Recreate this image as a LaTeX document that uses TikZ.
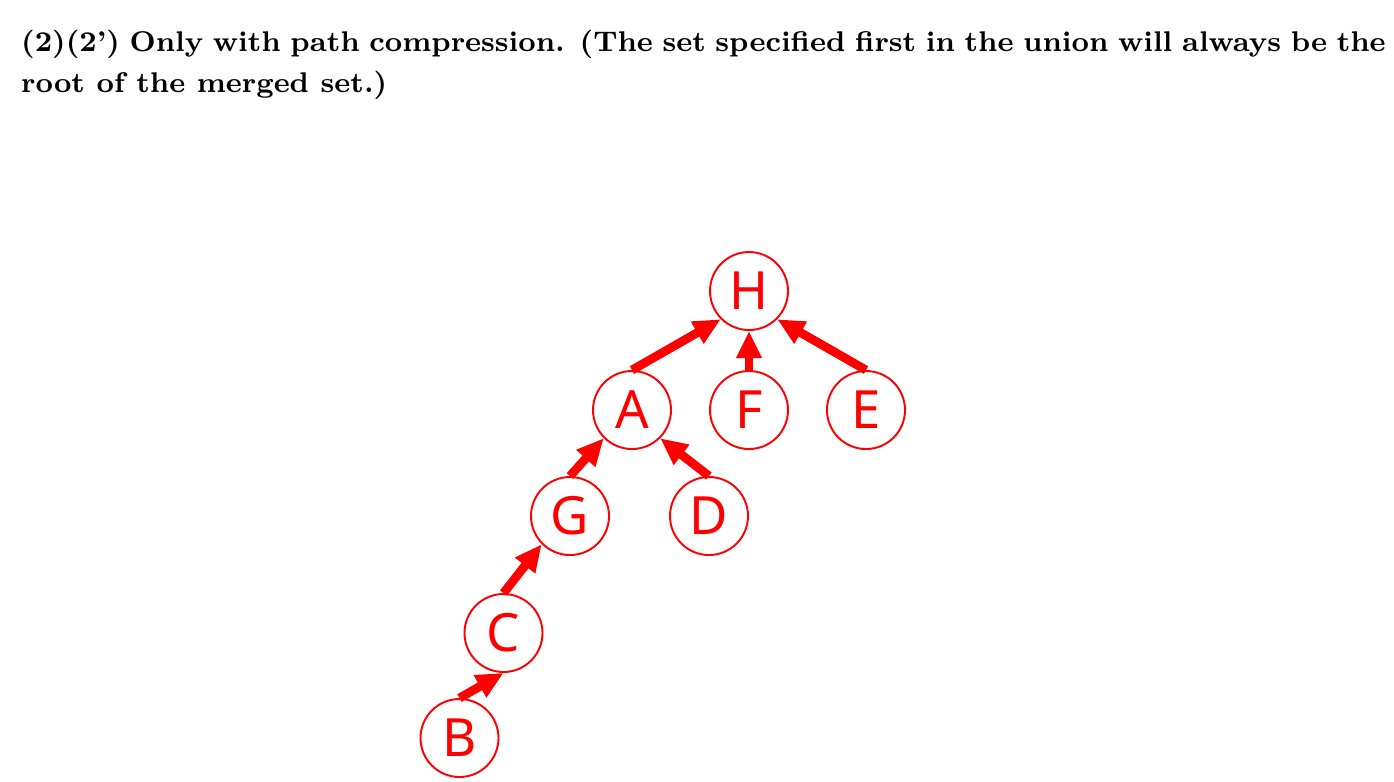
\documentclass[tikz,border=0pt]{standalone}
\usepackage{fontspec}
\newfontfamily\nodefont{Noto Sans}
\usetikzlibrary{positioning,arrows.meta}

\begin{document}
\begin{tikzpicture}[>={Triangle[length=7.7pt,width=6.8pt]},node distance=1.17cm,on grid,
  vertex/.style={draw=red, line width=0.55pt, circle, minimum size=0.78cm, inner sep=0pt,
    text=red, font=\nodefont\fontsize{15}{15}\selectfont},
  link/.style={->, red, line width=2.5pt}]
  \useasboundingbox (0,0) rectangle (13.94,-7.81);

  \node[anchor=north west, inner sep=0pt, text width=13.645cm, align=justify,
    font=\fontsize{8.1}{11.66}\selectfont\bfseries] (title) at (0.205,-0.295)
    {(2)(2') Only with path compression. (The set specified first in the union will always be the\linebreak
     root of the merged set.)};

  \node[vertex] (H) at (7.49,-2.91) {H};
  \node[vertex, below=1.19cm of H] (F) {F};
  \node[vertex, left=of F] (A) {A};
  \node[vertex, right=of F] (E) {E};
  \node[vertex, below left=1.06cm and 0.62cm of A] (G) {G};
  \node[vertex, below right=1.06cm and 0.77cm of A] (D) {D};
  \node[vertex, below left=1.17cm and 0.665cm of G] (C) {C};
  \node[vertex, below left=1.05cm and 0.44cm of C] (B) {B};

  \draw[link] (A.north) -- (H.south west);
  \draw[link] (F.north) -- (H.south);
  \draw[link] (E.north) -- (H.south east);
  \draw[link] (G.north) -- (A.south west);
  \draw[link] (D.north) -- (A.south east);
  \draw[link] (C.north) -- (G.south west);
  \draw[link] (B.north) -- (C.south);
\end{tikzpicture}
\end{document}
